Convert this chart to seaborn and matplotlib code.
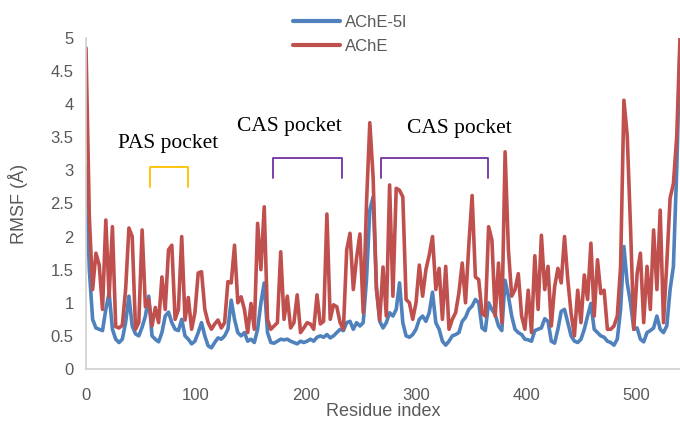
import matplotlib
matplotlib.use("Agg")
import numpy as np
import pandas as pd
import seaborn as sns
import matplotlib.pyplot as plt

# residue index, every 3rd residue
residues = list(range(0, 541, 3))

# RMSF (Å)
rmsf_ache_5l = [
    3.05, 1.5, 0.75, 0.62, 0.6, 0.58, 0.9, 1.15, 0.6, 0.45,
    0.4, 0.45, 0.7, 1.1, 0.65, 0.53, 0.5, 0.63, 0.8, 1.1,
    0.5, 0.45, 0.41, 0.55, 0.8, 0.86, 0.7, 0.6, 0.58, 0.75,
    0.5, 0.45, 0.38, 0.42, 0.55, 0.7, 0.5, 0.35, 0.32, 0.4,
    0.47, 0.45, 0.5, 0.6, 1.04, 0.75, 0.55, 0.5, 0.55, 0.42,
    0.45, 0.4, 0.6, 1.0, 1.3, 0.55, 0.4, 0.39, 0.42, 0.45,
    0.44, 0.45, 0.42, 0.4, 0.38, 0.42, 0.4, 0.42, 0.45, 0.42,
    0.48, 0.5, 0.48, 0.52, 0.47, 0.5, 0.55, 0.6, 0.58, 0.7,
    0.72, 0.6, 0.7, 0.65, 0.7, 1.35, 2.4, 2.6, 1.25, 0.72,
    0.62, 0.7, 0.85, 0.8, 0.9, 1.3, 0.7, 0.5, 0.48, 0.52,
    0.6, 0.75, 0.8, 0.72, 0.85, 1.16, 0.7, 0.6, 0.42, 0.36,
    0.42, 0.5, 0.52, 0.55, 0.72, 0.78, 0.9, 0.95, 1.05, 1.0,
    0.62, 0.58, 1.0, 0.9, 0.82, 0.65, 0.58, 1.34, 1.1, 0.8,
    0.6, 0.55, 0.52, 0.45, 0.44, 0.42, 0.58, 0.6, 0.62, 0.76,
    0.72, 0.42, 0.39, 0.6, 0.87, 0.9, 0.7, 0.5, 0.42, 0.4,
    0.45, 0.6, 0.8, 0.99, 0.6, 0.55, 0.5, 0.48, 0.42, 0.4,
    0.36, 0.45, 0.9, 1.85, 1.3, 1.0, 0.6, 0.62, 0.45, 0.41,
    0.55, 0.58, 0.62, 0.8, 0.6, 0.55, 0.65, 1.2, 1.55, 3.0,
    4.85,
]

rmsf_ache = [
    4.85, 2.3, 1.2, 1.75, 1.57, 0.9, 2.25, 1.09, 2.15, 0.64,
    0.62, 0.66, 1.2, 2.13, 2.0, 0.6, 0.7, 2.1, 0.94, 1.05,
    0.65, 0.93, 0.7, 1.39, 0.9, 1.8, 1.87, 0.75, 0.9, 2.0,
    0.74, 1.08, 0.6, 0.85, 1.45, 1.47, 0.9, 0.7, 0.6, 0.68,
    0.74, 0.62, 0.7, 1.32, 1.3, 1.87, 1.0, 1.09, 0.9, 0.55,
    0.99, 0.6, 2.2, 1.5, 2.45, 0.75, 0.6, 0.65, 0.7, 1.77,
    0.75, 1.1, 0.62, 0.7, 1.12, 0.55, 0.62, 0.7, 0.68, 0.6,
    1.12, 0.68, 0.72, 2.34, 0.75, 0.97, 0.94, 0.7, 0.6, 1.8,
    2.05, 1.2, 1.68, 2.04, 0.85, 2.5, 3.72, 2.9, 1.2, 0.74,
    1.54, 0.8, 2.78, 1.1, 2.73, 2.7, 2.6, 1.05, 1.0, 0.75,
    1.0, 1.57, 1.1, 1.5, 1.72, 2.0, 1.2, 1.52, 0.75, 1.55,
    0.6, 0.75, 0.85, 1.15, 1.6, 1.0, 1.87, 2.62, 1.39, 1.35,
    0.84, 0.8, 2.15, 1.95, 0.8, 1.6, 0.7, 3.28, 1.8, 1.1,
    1.2, 1.44, 0.8, 0.6, 1.19, 0.55, 1.71, 0.9, 2.02, 1.2,
    1.55, 0.65, 1.24, 1.52, 1.3, 2.0, 1.35, 0.84, 0.5, 1.19,
    0.7, 1.42, 1.05, 1.9, 0.8, 1.65, 1.14, 1.19, 0.6, 0.6,
    0.65, 0.8, 1.55, 4.06, 3.53, 2.15, 0.6, 1.44, 1.75, 0.7,
    1.55, 0.9, 2.1, 1.2, 2.4, 0.7, 1.6, 2.58, 2.8, 3.5,
    5.0,
]

series_names = ["AChE-5l", "AChE"]
colors = ["#4F81BD", "#C0504D"]

# pockets: label, bracket start/end residue, label x, colour, bracket top/bottom, label y
pockets = [
    ("PAS pocket", 58, 93, 75, "#FFC000", 3.05, 2.75, 3.41),
    ("CAS pocket", 170, 233, 185, "#7030A0", 3.19, 2.89, 3.66),
    ("CAS pocket", 268, 365, 339, "#7030A0", 3.19, 2.89, 3.64),
]

df = pd.DataFrame({
    "Residue index": residues * 2,
    "RMSF": rmsf_ache_5l + rmsf_ache,
    "series": [series_names[0]] * len(residues) + [series_names[1]] * len(residues),
})

sns.set_theme(style="white")
plt.rcParams['font.family'] = ['Liberation Sans', 'DejaVu Sans']

fig = plt.figure(figsize=(6.8, 4.22), dpi=100)
ax = fig.add_axes([0.1265, 0.1256, 0.8735, 0.7844])

sns.lineplot(data=df, x="Residue index", y="RMSF", hue="series",
             hue_order=series_names, palette=colors, linewidth=2.6,
             ax=ax, legend=False)

ax.set_xlim(0, 540)
ax.set_ylim(0, 5)
ax.set_xticks([0, 100, 200, 300, 400, 500])
ax.set_yticks(np.arange(0, 5.01, 0.5))
ax.set_yticklabels(["0", "0.5", "1", "1.5", "2", "2.5", "3", "3.5", "4", "4.5", "5"])
ax.tick_params(axis="both", length=0, labelsize=12, colors="#595959")
ax.tick_params(axis="x", pad=14)
ax.tick_params(axis="y", pad=9)
ax.set_xlabel("Residue index", fontsize=13, color="#595959", labelpad=0)
ax.set_ylabel("RMSF (Å)", fontsize=13, color="#595959", labelpad=16)

for side in ["top", "right"]:
    ax.spines[side].set_visible(False)
for side in ["left", "bottom"]:
    ax.spines[side].set_color("#D0D0D0")
    ax.spines[side].set_linewidth(1.2)

for label, start, end, text_x, col, top, bottom, text_y in pockets:
    ax.plot([start, start, end, end], [bottom, top, top, bottom],
            color=col, linewidth=1.3, solid_joinstyle="round")
    ax.text(text_x, text_y, label, ha="center", va="center", fontsize=15.5,
            family=["Liberation Serif", "DejaVu Serif"], color="black")

handles = [plt.Line2D([], [], color=c, linewidth=3) for c in colors]
fig.legend(handles, series_names, loc="upper center", bbox_to_anchor=(0.515, 1.0),
           frameon=False, fontsize=12, handlelength=2.8, labelspacing=0.55,
           handletextpad=0.3, labelcolor="#595959")

fig.savefig("out.png", dpi=100)
